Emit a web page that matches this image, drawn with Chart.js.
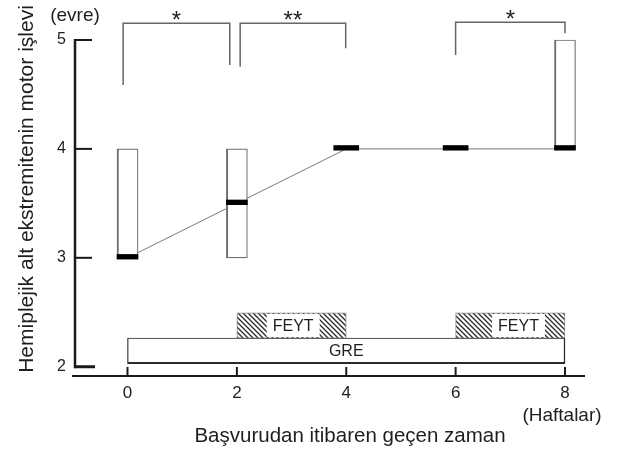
<!DOCTYPE html>
<html><head><meta charset="utf-8">
<script src="https://cdn.jsdelivr.net/npm/chart.js@4.4.1/dist/chart.umd.min.js"></script>
<style>html,body{margin:0;padding:0;background:#fff;}canvas{display:block;}</style>
</head><body>
<canvas id="c" width="622" height="450"></canvas>
<script>
// ---- data ----
const weeks = [0, 2, 4, 6, 8];
const medians = [3, 3.5, 4, 4, 4];
const lowerQuartile = [3, 3, 4, 4, 4];
const upperQuartile = [4, 4, 4, 4, 5];
const xTickValues = [0, 2, 4, 6, 8];
const xTickLabels = ['0', '2', '4', '6', '8'];
const yTickValues = [2, 3, 4, 5];
const yTickLabels = ['2', '3', '4', '5'];
const therapyLabels = ['FEYT', 'FEYT', 'GRE'];
const therapyStart = [2, 6, 0];
const therapyEnd = [4, 8, 8];
const therapyLevel = [2.378, 2.378, 2.146];
const therapyLabelX = [3.03, 7.15, 4.0];
const bracketFrom = [-0.08, 2.06, 6.0];
const bracketTo = [1.87, 3.99, 8.0];
const bracketFromEnd = [4.587, 4.755, 4.862];
const bracketToEnd = [4.77, 4.924, 5.062];
const bracketTop = [5.153, 5.153, 5.163];
const bracketMarks = ['*', '**', '*'];
const yTitle = 'Hemiplejik alt ekstremitenin motor işlevi';
const yUnit = '(evre)';
const xTitle = 'Başvurudan itibaren geçen zaman';
const xUnit = '(Haftalar)';

const FONT = '"Liberation Sans", Arial, sans-serif';
const TXT = '#1e1e1e';

function hatchPattern() {
  const s = 5;
  const c = document.createElement('canvas');
  c.width = s; c.height = s;
  const g = c.getContext('2d');
  g.fillStyle = '#fff'; g.fillRect(0, 0, s, s);
  g.strokeStyle = '#2a2a2a'; g.lineWidth = 1.3;
  g.beginPath();
  g.moveTo(-1, -1); g.lineTo(s + 1, s + 1);
  g.moveTo(-1, s - 1); g.lineTo(1, s + 1);
  g.moveTo(s - 1, -1); g.lineTo(s + 1, 1);
  g.stroke();
  return g.createPattern(c, 'repeat');
}
const hatch = hatchPattern();

const inBox = weeks.map((w, i) => upperQuartile[i] > lowerQuartile[i]);

const datasets = [
  {
    type: 'line', order: 5,
    data: weeks.map((w, i) => ({ x: w, y: medians[i] })),
    borderColor: '#7a7a7a', borderWidth: 1, pointRadius: 0, tension: 0, fill: false
  },
  {
    type: 'bar', order: 4, grouped: false, barThickness: 21,
    data: weeks.map((w, i) => ({ x: w, y: [lowerQuartile[i], upperQuartile[i]] })),
    backgroundColor: '#ffffff', borderColor: '#6e6e6e',
    borderWidth: { left: 2, right: 1.2, top: 1.2, bottom: 1.2 }, borderSkipped: false
  },
  {
    type: 'bar', order: 1, grouped: false, barThickness: 21,
    data: weeks.map((w, i) => inBox[i] ? ({ x: w, y: [medians[i] - 0.012, medians[i] + 0.031] }) : null).filter(Boolean),
    backgroundColor: '#000', borderWidth: 0
  },
  {
    type: 'bar', order: 1, grouped: false, barThickness: 25,
    data: weeks.map((w, i) => !inBox[i] ? ({ x: w, y: [medians[i] - 0.012, medians[i] + 0.031] }) : null).filter(Boolean),
    backgroundColor: '#000', borderWidth: 0
  },
  {
    type: 'bar', order: 2, grouped: false, indexAxis: 'y', barThickness: 25.5,
    data: therapyLabels.map((l, i) => ({ x: [therapyStart[i], therapyEnd[i]], y: therapyLevel[i] })),
    backgroundColor: therapyLabels.map(l => l === 'GRE' ? '#ffffff' : hatch),
    borderColor: therapyLabels.map(l => l === 'GRE' ? '#2a2a2a' : '#8a8a8a'),
    borderWidth: therapyLabels.map(l => l === 'GRE' ? { left: 1.2, right: 1.5, top: 1, bottom: 2 } : 1),
    borderSkipped: false
  }
];

const deco = {
  id: 'deco',
  afterDraw(chart) {
    const { ctx, chartArea: a, scales: { x, y } } = chart;
    const ln = (x1, y1, x2, y2) => { ctx.beginPath(); ctx.moveTo(x1, y1); ctx.lineTo(x2, y2); ctx.stroke(); };
    ctx.save();
    ctx.lineCap = 'butt';
    ctx.strokeStyle = '#1a1a1a';
    // y axis line spanning 2..5
    const ax = a.left + 3;
    ctx.lineWidth = 2.5;
    ln(ax, y.getPixelForValue(yTickValues[yTickValues.length - 1]) - 1, ax, y.getPixelForValue(yTickValues[0]) + 1.5);
    yTickValues.forEach((v, i) => {
      const p = y.getPixelForValue(v);
      ctx.lineWidth = i === 0 ? 3 : 2;
      ln(ax, p, ax + (i === 0 ? 20 : 17), p);
    });
    // x axis line
    ctx.lineWidth = 2;
    ln(a.left, a.bottom, a.right, a.bottom);
    xTickValues.forEach(v => {
      const p = x.getPixelForValue(v);
      ln(p, a.bottom, p, a.bottom - 9);
    });
    // brackets
    ctx.strokeStyle = '#666';
    ctx.lineWidth = 1.5;
    bracketFrom.forEach((f, i) => {
      const x1 = x.getPixelForValue(f), x2 = x.getPixelForValue(bracketTo[i]);
      const t = y.getPixelForValue(bracketTop[i]);
      ctx.beginPath();
      ctx.moveTo(x1, y.getPixelForValue(bracketFromEnd[i]));
      ctx.lineTo(x1, t); ctx.lineTo(x2, t);
      ctx.lineTo(x2, y.getPixelForValue(bracketToEnd[i]));
      ctx.stroke();
      ctx.fillStyle = TXT;
      ctx.font = '24px ' + FONT;
      ctx.textAlign = 'center'; ctx.textBaseline = 'alphabetic';
      ctx.fillText(bracketMarks[i], (x1 + x2) / 2, t + 5);
    });
    // therapy labels
    ctx.font = '16px ' + FONT;
    ctx.textAlign = 'center'; ctx.textBaseline = 'middle';
    therapyLabels.forEach((l, i) => {
      const cx = x.getPixelForValue(therapyLabelX[i]), cy = y.getPixelForValue(therapyLevel[i]);
      if (l !== 'GRE') {
        const w = ctx.measureText(l).width + 12;
        ctx.fillStyle = '#fff';
        ctx.fillRect(cx - w / 2, cy - 11.5, w, 23);
      }
      ctx.fillStyle = TXT;
      ctx.fillText(l, cx, cy + 1);
    });
    // titles & units
    ctx.fillStyle = TXT;
    ctx.font = '19px ' + FONT;
    ctx.textAlign = 'center'; ctx.textBaseline = 'middle';
    ctx.fillText(yUnit, ax, 16);
    ctx.fillText(xUnit, x.getPixelForValue(xTickValues[xTickValues.length - 1]) - 3, 416);
    ctx.font = '20.5px ' + FONT;
    ctx.textBaseline = 'alphabetic';
    ctx.fillText(xTitle, 350, 442);
    ctx.save();
    ctx.translate(33, 189);
    ctx.rotate(-Math.PI / 2);
    ctx.font = '21px ' + FONT;
    ctx.textAlign = 'center'; ctx.textBaseline = 'alphabetic';
    ctx.fillText(yTitle, 0, 0);
    ctx.restore();
    ctx.restore();
  }
};

Chart.defaults.color = TXT;
new Chart(document.getElementById('c'), {
  type: 'bar',
  data: { datasets },
  plugins: [deco],
  options: {
    responsive: false, animation: false,
    layout: { padding: { left: 0, right: 37, top: 0, bottom: 0 } },
    plugins: { legend: { display: false }, tooltip: { enabled: false } },
    scales: {
      x: {
        type: 'linear', min: -1.015, max: 8.366, offset: false,
        grid: { display: false, drawTicks: false, offset: false }, border: { display: false },
        afterBuildTicks: s => { s.ticks = xTickValues.map(v => ({ value: v })); },
        afterFit: s => { s.height = 74; s.paddingLeft = 0; s.paddingRight = 0; },
        ticks: { padding: 7, autoSkip: false, maxRotation: 0, font: { family: FONT, size: 17 }, color: TXT,
                 callback: (v, i) => xTickLabels[i] }
      },
      y: {
        type: 'linear', min: 1.915, max: 5.367, offset: false,
        grid: { display: false, drawTicks: false, offset: false }, border: { display: false },
        afterBuildTicks: s => { s.ticks = yTickValues.map(v => ({ value: v })); },
        afterFit: s => { s.width = 72; s.paddingTop = 0; s.paddingBottom = 0; },
        ticks: { padding: 6, autoSkip: false, font: { family: FONT, size: 16 }, color: TXT,
                 callback: (v, i) => yTickLabels[i] }
      }
    }
  }
});
</script>
</body></html>
